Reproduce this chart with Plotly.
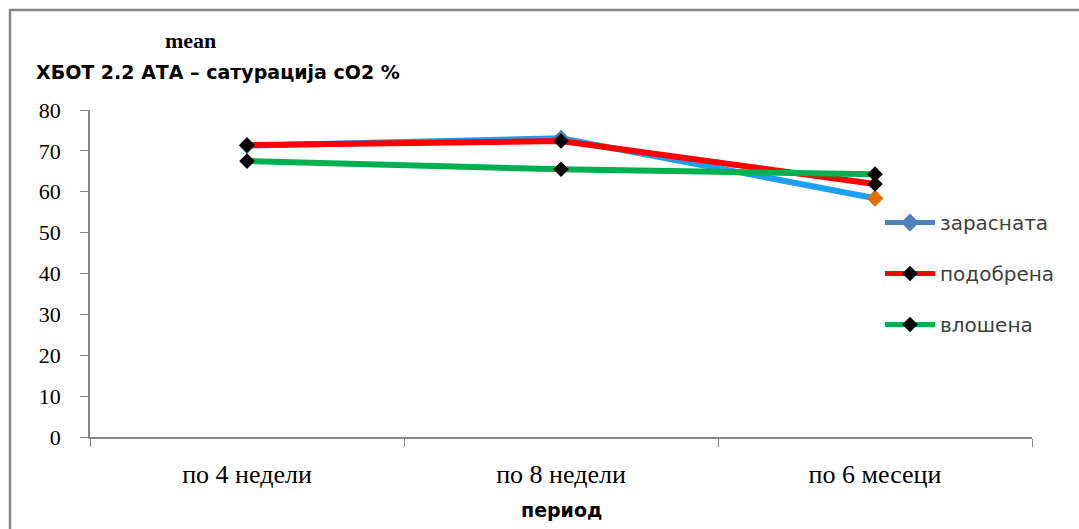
import plotly.graph_objects as go

categories = ["по 4 недели", "по 8 недели", "по 6 месеци"]
zarasnata = [71.3, 73.1, 58.4]
podobrena = [71.4, 72.4, 61.9]
vlosena = [67.5, 65.5, 64.3]
y_ticks = [0, 10, 20, 30, 40, 50, 60, 70, 80]

W, H = 1079, 529
L, R, T, B = 90, 1032, 110, 437
pw, ph = R - L, B - T

fig = go.Figure()

fig.add_trace(go.Scatter(
    x=categories, y=zarasnata, mode="lines+markers", name="зарасната", showlegend=False,
    line=dict(color="#1E9EF0", width=6),
    marker=dict(symbol="diamond", size=13, color=["#4F81BD", "#4F81BD", "#E46C0A"],
                line=dict(color="#4F81BD", width=0)),
))
fig.add_trace(go.Scatter(
    x=categories, y=podobrena, mode="lines+markers", name="подобрена", showlegend=False,
    line=dict(color="#FF0000", width=6),
    marker=dict(symbol="diamond", size=12, color="black"),
))
fig.add_trace(go.Scatter(
    x=categories, y=vlosena, mode="lines+markers", name="влошена", showlegend=False,
    line=dict(color="#00B050", width=6),
    marker=dict(symbol="diamond", size=12, color="black"),
))

# legend entries
fig.add_trace(go.Scatter(x=[None], y=[None], mode="lines+markers", name="зарасната",
                         legendgroup="a",
                         line=dict(color="#4F81BD", width=5),
                         marker=dict(symbol="diamond", size=14, color="#4F81BD")))
fig.add_trace(go.Scatter(x=[None], y=[None], mode="lines+markers", name="подобрена",
                         legendgroup="b",
                         line=dict(color="#FF0000", width=5),
                         marker=dict(symbol="diamond", size=12, color="black")))
fig.add_trace(go.Scatter(x=[None], y=[None], mode="lines+markers", name="влошена",
                         legendgroup="c",
                         line=dict(color="#00B050", width=5),
                         marker=dict(symbol="diamond", size=12, color="black")))

def px_x(x):
    return (x - L) / pw

def px_y(y):
    return (B - y) / ph

fig.update_layout(
    width=W, height=H,
    margin=dict(l=L, r=W - R, t=T, b=H - B),
    paper_bgcolor="white", plot_bgcolor="white",
    showlegend=True,
    legend=dict(x=px_x(880), y=px_y(203), xanchor="left", yanchor="top",
                traceorder="grouped", tracegroupgap=22, itemwidth=50,
                font=dict(family="DejaVu Sans", size=20, color="#404040"),
                bgcolor="rgba(0,0,0,0)"),
    xaxis=dict(type="category", range=[-0.5, 2.5], showline=True, linecolor="#868686",
               linewidth=1.5, ticks="outside", tickson="boundaries", ticklen=8,
               tickcolor="#868686", showgrid=False, zeroline=False,
               tickfont=dict(family="Liberation Serif", size=26, color="black"),
               ticklabelstandoff=13),
    yaxis=dict(range=[0, 80], tickvals=y_ticks, showline=True, linecolor="#868686",
               linewidth=1.5, ticks="outside", ticklen=8, tickcolor="#868686",
               showgrid=False, zeroline=False,
               tickfont=dict(family="Liberation Serif", size=22, color="black"),
               ticklabelstandoff=15),
    annotations=[
        dict(text="<b>mean</b>", xref="paper", yref="paper", x=px_x(190), y=px_y(40),
             xanchor="center", yanchor="middle", showarrow=False,
             font=dict(family="Liberation Serif", size=22, color="black")),
        dict(text="<b>ХБОТ 2.2 АТА – сатурација сО2 %</b>", xref="paper", yref="paper",
             x=px_x(34), y=px_y(72), xanchor="left", yanchor="middle", showarrow=False,
             font=dict(family="DejaVu Sans", size=19, color="black")),
        dict(text="<b>период</b>", xref="paper", yref="paper", x=px_x(561), y=px_y(510),
             xanchor="center", yanchor="middle", showarrow=False,
             font=dict(family="DejaVu Sans", size=19, color="black")),
    ],
    shapes=[
        dict(type="rect", xref="paper", yref="paper",
             x0=px_x(10), y0=px_y(560), x1=px_x(1110), y1=px_y(10),
             line=dict(color="#868686", width=2.5), fillcolor="rgba(0,0,0,0)", layer="below"),
    ],
)

fig.write_html("out.html")
